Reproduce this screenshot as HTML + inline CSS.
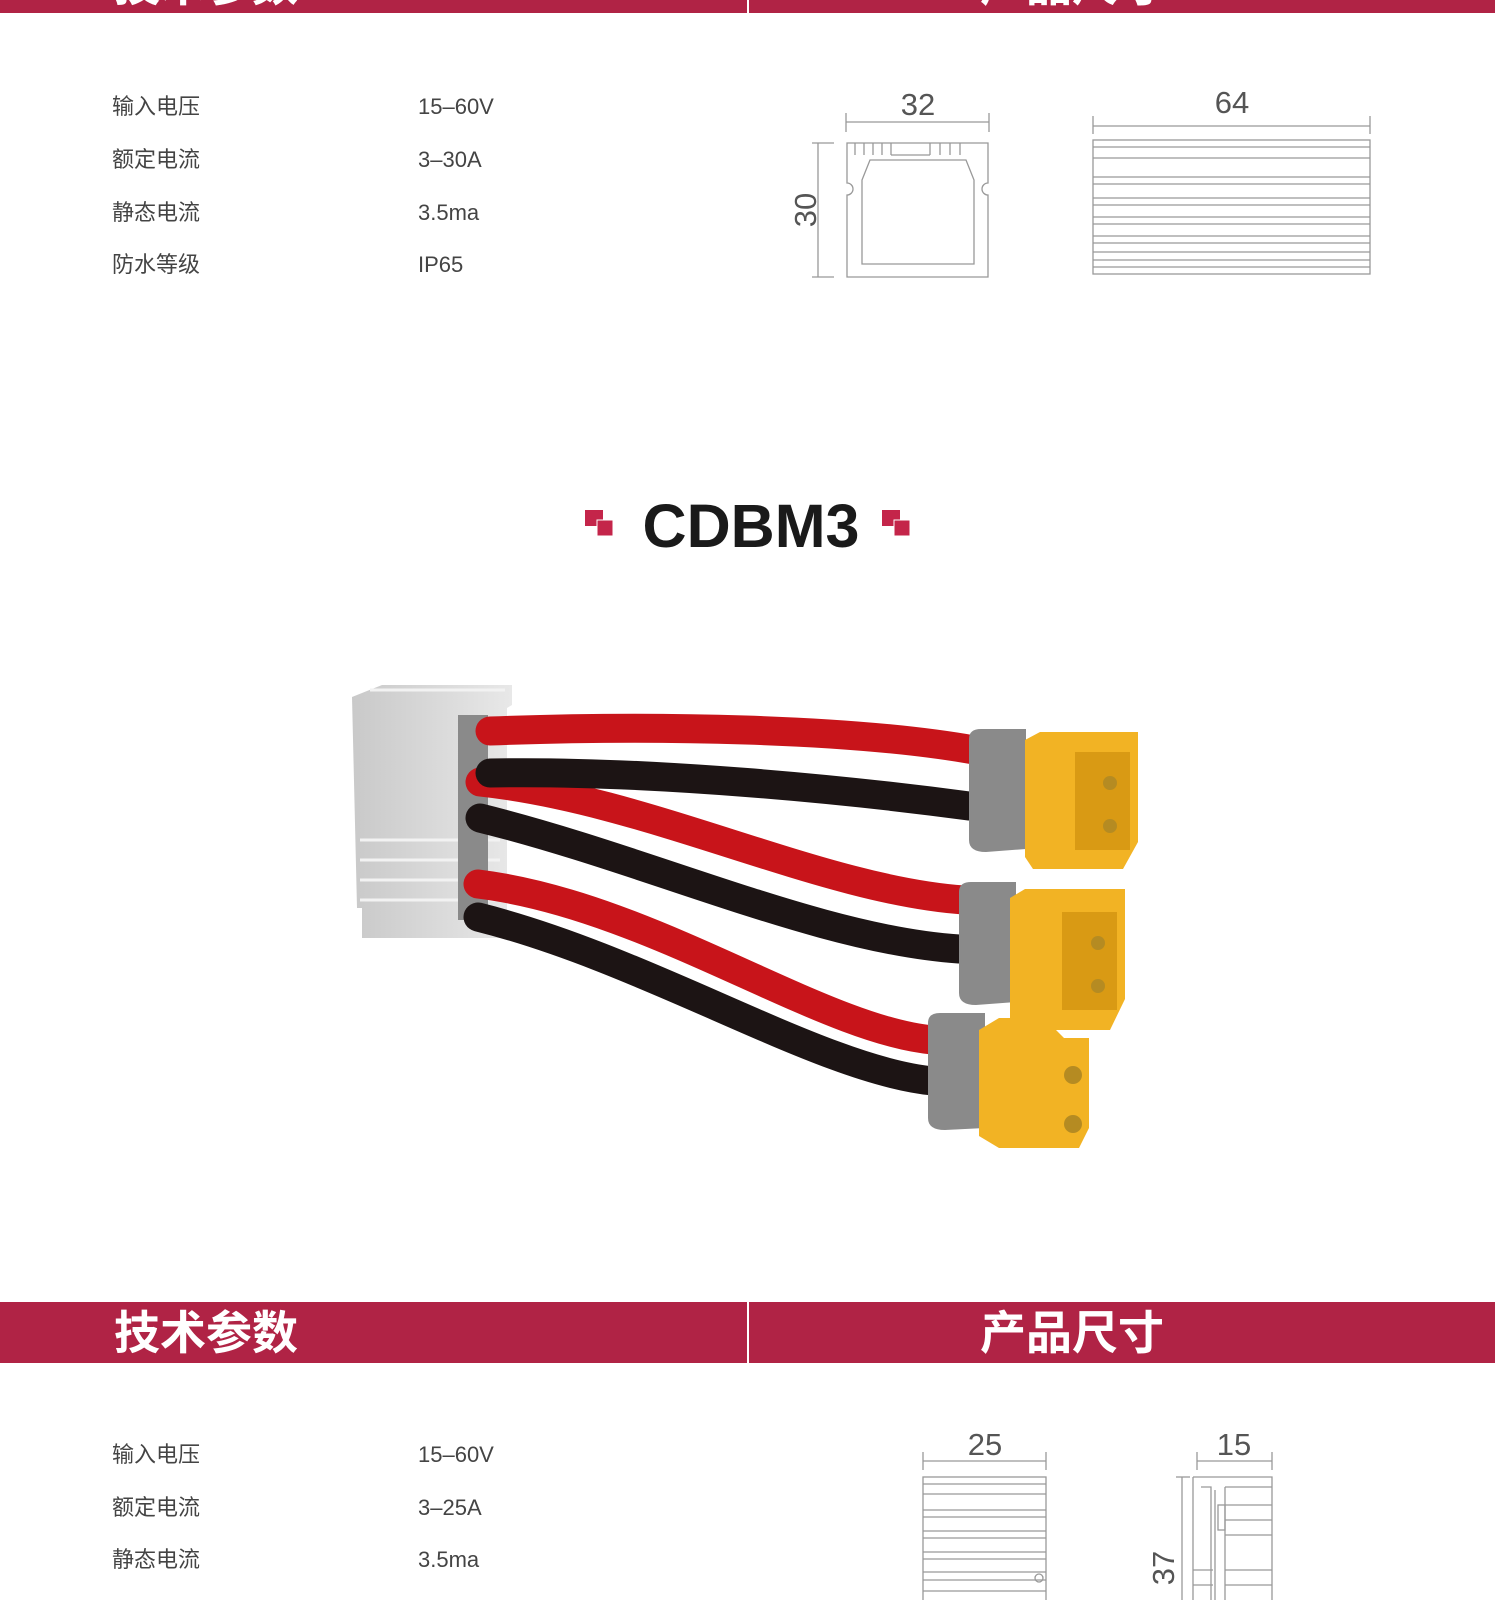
<!DOCTYPE html>
<html><head><meta charset="utf-8"><style>
body{margin:0;width:1495px;height:1600px;background:#fff;position:relative;overflow:hidden;font-family:"Liberation Sans","Noto Sans CJK SC",sans-serif;}
.bar{position:absolute;left:0;width:1495px;background:#b02345;overflow:hidden;}
.t{position:absolute;font-size:22px;color:#444;line-height:1;}
.h{position:absolute;color:#fff;font-weight:bold;font-size:46px;line-height:1;}
</style></head><body>
<div class="bar" style="top:0;height:13px"><div class="h" style="left:114px;top:-38px">技术参数</div><div class="h" style="left:980px;top:-38px">产品尺寸</div></div>
<div style="position:absolute;left:747px;top:0;width:2px;height:13px;background:#fff"></div>

<div class="t" style="left:112px;top:96px">输入电压</div><div class="t" style="left:418px;top:96px">15–60V</div>
<div class="t" style="left:112px;top:149px">额定电流</div><div class="t" style="left:418px;top:149px">3–30A</div>
<div class="t" style="left:112px;top:202px">静态电流</div><div class="t" style="left:418px;top:202px">3.5ma</div>
<div class="t" style="left:112px;top:254px">防水等级</div><div class="t" style="left:418px;top:254px">IP65</div>

<svg style="position:absolute;left:0;top:0" width="1495" height="1600">
<g stroke="#999" fill="none" stroke-width="1.3">
<line x1="846" y1="122" x2="989" y2="122"/><line x1="846" y1="113" x2="846" y2="132"/><line x1="989" y1="113" x2="989" y2="132"/>
<line x1="818" y1="143" x2="818" y2="277"/><line x1="812" y1="143" x2="834" y2="143"/><line x1="812" y1="277" x2="834" y2="277"/>
<path d="M847 143 h141 v40 a6 6 0 0 0 0 12 v82 h-141 v-82 a6 6 0 0 0 0-12 z"/>
<path d="M870 160 h96 l8 20 v84 h-112 v-84 z"/>
<path d="M855 143 v12 M864 143 v12 M873 143 v12 M882 143 v12 M891 143 v12 M930 143 v12 M940 143 v12 M950 143 v12 M960 143 v12 M891 155 h39"/>
<line x1="1093" y1="126" x2="1370" y2="126"/><line x1="1093" y1="116" x2="1093" y2="134"/><line x1="1370" y1="116" x2="1370" y2="134"/>
<rect x="1093" y="140" width="277" height="134"/>
<path d="M1093 147h277M1093 158h277M1093 177h277M1093 184h277M1093 198h277M1093 205h277M1093 217h277M1093 224h277M1093 236h277M1093 243h277M1093 252h277M1093 260h277M1093 267h277"/>
<line x1="923" y1="1461" x2="1046" y2="1461"/><line x1="923" y1="1452" x2="923" y2="1470"/><line x1="1046" y1="1452" x2="1046" y2="1470"/>
<rect x="923" y="1477" width="123" height="130"/>
<path d="M923 1484h123M923 1494h123M923 1510h123M923 1517h123M923 1531h123M923 1538h123M923 1552h123M923 1559h123M923 1572h123M923 1580h123M923 1591h123"/>
<circle cx="1039" cy="1578" r="4"/>
<line x1="1197" y1="1461" x2="1272" y2="1461"/><line x1="1197" y1="1452" x2="1197" y2="1470"/><line x1="1272" y1="1452" x2="1272" y2="1470"/>
<line x1="1182" y1="1477" x2="1182" y2="1600"/><line x1="1176" y1="1477" x2="1190" y2="1477"/>
<path d="M1193 1477 h79 v123 M1193 1477 v123 M1201 1487 h10 v113 M1215 1490 v110 M1225 1487 h47 M1225 1487 v113 M1225 1505 h47 M1225 1520 h47 M1225 1535 h47 M1193 1570 h20 M1193 1585 h20 M1225 1570 h47 M1225 1585 h47"/>
<rect x="1218" y="1505" width="7" height="25"/>
</g>
<g fill="#555" font-family="Liberation Sans,sans-serif" font-size="31">
<text x="918" y="115" text-anchor="middle">32</text>
<text x="1232" y="113" text-anchor="middle">64</text>
<text x="985" y="1455" text-anchor="middle">25</text>
<text x="1234" y="1455" text-anchor="middle">15</text>
<text transform="translate(816 210) rotate(-90)" text-anchor="middle">30</text>
<text transform="translate(1174 1568) rotate(-90)" text-anchor="middle">37</text>
</g>

<rect x="585" y="510" width="18" height="16" fill="#c4254a"/><rect x="597" y="520" width="16" height="16" fill="#c4254a" stroke="#fff" stroke-width="1"/>
<rect x="882" y="510" width="18" height="16" fill="#c4254a"/><rect x="894" y="520" width="16" height="16" fill="#c4254a" stroke="#fff" stroke-width="1"/>
<text x="751" y="547" text-anchor="middle" font-family="Liberation Sans,sans-serif" font-size="61" font-weight="bold" fill="#1a1a1a">CDBM3</text>

<defs><linearGradient id="hs" x1="0" x2="1"><stop offset="0" stop-color="#c9c9c9"/><stop offset="1" stop-color="#e8e8e8"/></linearGradient></defs>
<path d="M352 697 l30 -12 h130 v20 l-5 3 v230 h-145 v-30 h-5 z" fill="url(#hs)"/>
<g stroke="#f2f2f2" stroke-width="3"><line x1="360" y1="840" x2="500" y2="840"/><line x1="360" y1="860" x2="500" y2="860"/><line x1="360" y1="880" x2="500" y2="880"/><line x1="360" y1="900" x2="500" y2="900"/><line x1="370" y1="690" x2="505" y2="690"/></g>
<rect x="458" y="715" width="30" height="205" fill="#8a8a8a"/>
<g fill="none" stroke-linecap="round" stroke-width="29">
<path d="M480 818 C 650 860, 820 940, 959 949" stroke="#1c1414"/>
<path d="M480 782 C 650 800, 820 890, 964 900" stroke="#c8141a"/>
<path d="M478 917 C 650 960, 820 1070, 933 1081" stroke="#1c1414"/>
<path d="M478 884 C 650 905, 820 1030, 933 1040" stroke="#c8141a"/>
<path d="M490 773 C 650 770, 850 790, 969 806" stroke="#1c1414"/>
<path d="M490 731 C 650 725, 850 728, 974 750" stroke="#c8141a"/>
</g>
<g>
<path d="M969 739 q0 -10 12 -10 h45 v120 l-40 3 q-17 0 -17 -12 z" fill="#8a8a8a"/>
<path d="M1025 740 l15 -8 h98 v110 l-15 27 h-90 l-8 -12 z" fill="#f2b324"/>
<rect x="1075" y="752" width="55" height="98" fill="#d99a14"/><circle cx="1110" cy="783" r="7" fill="#b58b22"/><circle cx="1110" cy="826" r="7" fill="#b58b22"/>
<path d="M959 892 q0 -10 12 -10 h45 v120 l-40 3 q-17 0 -17 -12 z" fill="#8a8a8a"/>
<path d="M1010 898 l15 -9 h100 v110 l-15 31 h-90 l-10 -12 z" fill="#f2b324"/>
<rect x="1062" y="912" width="55" height="98" fill="#d99a14"/><circle cx="1098" cy="943" r="7" fill="#b58b22"/><circle cx="1098" cy="986" r="7" fill="#b58b22"/>
<path d="M928 1023 q0 -10 12 -10 h45 v115 l-40 2 q-17 0 -17 -12 z" fill="#8a8a8a"/>
<path d="M979 1030 l20 -12 h45 l20 20 h25 v90 l-10 20 h-80 l-20 -12 z" fill="#f2b324"/>
<circle cx="1073" cy="1075" r="9" fill="#b58b22"/><circle cx="1073" cy="1124" r="9" fill="#b58b22"/>
</g>
</svg>

<div class="bar" style="top:1302px;height:61px"></div>
<div style="position:absolute;left:747px;top:1302px;width:2px;height:61px;background:#fff"></div>
<div class="h" style="left:114px;top:1310px">技术参数</div>
<div class="h" style="left:980px;top:1310px">产品尺寸</div>

<div class="t" style="left:112px;top:1444px">输入电压</div><div class="t" style="left:418px;top:1444px">15–60V</div>
<div class="t" style="left:112px;top:1497px">额定电流</div><div class="t" style="left:418px;top:1497px">3–25A</div>
<div class="t" style="left:112px;top:1549px">静态电流</div><div class="t" style="left:418px;top:1549px">3.5ma</div>
</body></html>
